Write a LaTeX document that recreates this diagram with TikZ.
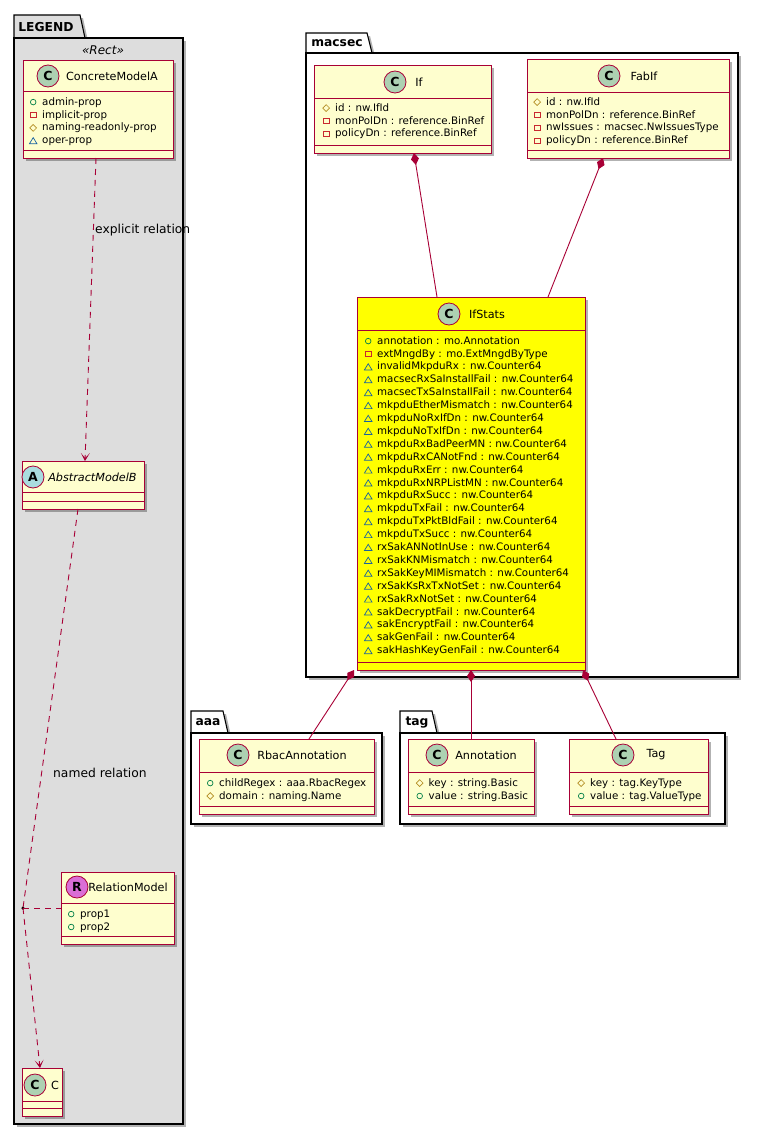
\documentclass[tikz,border=0pt]{standalone}
\usepackage{fontspec}
\setmainfont{DejaVu Sans}
\usetikzlibrary{arrows.meta,shadows}

\definecolor{umlborder}{HTML}{A80036}
\definecolor{umlfill}{HTML}{FEFECE}
\definecolor{legendgray}{HTML}{DDDDDD}
\definecolor{statsyellow}{HTML}{FFFF00}
\definecolor{spotc}{HTML}{ADD1B2}
\definecolor{spota}{HTML}{A9DCDF}
\definecolor{spotr}{HTML}{DA6ED6}
\definecolor{pubgreen}{HTML}{038048}
\definecolor{privred}{HTML}{C82930}
\definecolor{protgold}{HTML}{B38D22}
\definecolor{pkgblue}{HTML}{1963A0}

\newcommand{\vpub}{\tikz[baseline=0pt]{\useasboundingbox (0pt,0pt) rectangle (7pt,8.5pt);\draw[pubgreen,line width=0.7pt] (3.5pt,3pt) circle (2.8pt);}\hspace{5.5pt}}
\newcommand{\vpriv}{\tikz[baseline=0pt]{\useasboundingbox (0pt,0pt) rectangle (7pt,8.5pt);\draw[privred,line width=0.7pt] (0.8pt,0.3pt) rectangle (6.2pt,5.7pt);}\hspace{5.5pt}}
\newcommand{\vprot}{\tikz[baseline=0pt]{\useasboundingbox (0pt,0pt) rectangle (7pt,8.5pt);\draw[protgold,line width=0.7pt] (3.5pt,-0.4pt) -- (6.9pt,3pt) -- (3.5pt,6.4pt) -- (0.1pt,3pt) -- cycle;}\hspace{5.5pt}}
\newcommand{\vpkg}{\tikz[baseline=0pt]{\useasboundingbox (0pt,0pt) rectangle (7pt,8.5pt);\draw[pkgblue,line width=0.7pt] (-0.3pt,0pt) -- (7.3pt,0pt) -- (3.5pt,6.2pt) -- cycle;}\hspace{5.5pt}}

\tikzset{
	classbox/.style={draw=umlborder, fill=umlfill, line width=1pt, anchor=north west, inner sep=0pt, outer sep=0pt,
		drop shadow={shadow xshift=3pt, shadow yshift=-3pt, opacity=0.3, fill=black}},
	classline/.style={draw=umlborder, line width=1pt},
	spot/.style={circle, draw=umlborder, line width=0.8pt, minimum size=22pt, inner sep=0pt, font=\fontsize{12.5}{12.5}\selectfont\bfseries},
	classname/.style={font=\fontsize{11.2}{13}\selectfont, inner sep=0pt},
	attrs/.style={anchor=north west, align=left, inner sep=0pt, font=\fontsize{10.3}{12.9}\selectfont},
	pkgbody/.style={draw=black, line width=1.1pt, fill=white, anchor=north west, inner sep=0pt, outer sep=0pt,
		drop shadow={shadow xshift=3pt, shadow yshift=-3pt, opacity=0.3, fill=black}},
	pkgtab/.style={draw=black, line width=1.1pt, fill=white,
		drop shadow={shadow xshift=3pt, shadow yshift=-3pt, opacity=0.3, fill=black}},
	pkgname/.style={font=\fontsize{12.3}{14}\selectfont\bfseries, inner sep=0pt},
	rellabel/.style={font=\fontsize{12.3}{14}\selectfont, anchor=west, inner sep=0pt},
	dep/.style={draw=umlborder, line width=0.9pt, dash pattern=on 6pt off 5pt},
	deparrow/.style={dep, arrows={-Stealth[length=8pt, width=9pt, inset=5pt]}},
	comp/.style={draw=umlborder, line width=0.9pt, arrows={Diamond[length=12pt, width=8pt]-}},
}

\begin{document}
\begin{tikzpicture}[x=1pt, y=-1pt]
	\fill[white] (0,0) rectangle (759,1135);
	\useasboundingbox (0,0) rectangle (759,1135);

	\draw[pkgtab, fill=legendgray] (14,38) -- (14,15) -- (80,15) -- (85,38) -- cycle;
	\node[pkgbody, fill=legendgray, minimum width=169pt, minimum height=1086pt] (legend) at (14,38) {};
	\node[pkgname] (legend-name) at (46,27) {LEGEND};
	\node[font=\fontsize{12}{14}\selectfont\itshape, inner sep=0pt] (legend-stereo) at (103,50) {«Rect»};

	\draw[pkgtab] (306,53) -- (306,33) -- (367,33) -- (372,53) -- cycle;
	\node[pkgbody, minimum width=432pt, minimum height=624pt] (macsec) at (306,53) {};
	\node[pkgname] (macsec-name) at (337,43) {macsec};

	\draw[pkgtab] (191,733) -- (191,711) -- (223,711) -- (228,733) -- cycle;
	\node[pkgbody, minimum width=191pt, minimum height=91pt] (aaa) at (191,733) {};
	\node[pkgname] (aaa-name) at (208,722) {aaa};

	\draw[pkgtab] (400,733) -- (400,711) -- (432,711) -- (437,733) -- cycle;
	\node[pkgbody, minimum width=325pt, minimum height=91pt] (tag) at (400,733) {};
	\node[pkgname] (tag-name) at (417,722) {tag};

	\node[classbox, minimum width=150pt, minimum height=98pt] (concretea) at (23,60) {};
	\node[spot, fill=spotc] (concretea-spot) at (48,76) {C};
	\node[classname] (concretea-name) at (112,76) {ConcreteModelA};
	\node[attrs] (concretea-attrs) at (29.5,96.4) {\vpub admin-prop\\ \vpriv implicit-prop\\ \vprot naming-readonly-prop\\ \vpkg oper-prop};

	\node[classbox, minimum width=122pt, minimum height=48pt] (abstractb) at (22,461) {};
	\node[spot, fill=spota] (abstractb-spot) at (33,477) {A};
	\node[classname, font=\fontsize{11.2}{13}\selectfont\itshape] (abstractb-name) at (92.5,477) {AbstractModelB};

	\node[classbox, minimum width=113pt, minimum height=72pt] (relmodel) at (61,872) {};
	\node[spot, fill=spotr] (relmodel-spot) at (77,887) {R};
	\node[classname] (relmodel-name) at (128,887) {RelationModel};
	\node[attrs] (relmodel-attrs) at (67.5,908.4) {\vpub prop1\\ \vpub prop2};

	\node[classbox, minimum width=40pt, minimum height=48pt] (cbox) at (22,1068) {};
	\node[spot, fill=spotc] (cbox-spot) at (35,1085) {C};
	\node[classname] (cbox-name) at (55,1085) {C};

	\node[classbox, minimum width=177pt, minimum height=88pt] (ifbox) at (314,65) {};
	\node[spot, fill=spotc] (ifbox-spot) at (395,82) {C};
	\node[classname] (ifbox-name) at (419,82) {If};
	\node[attrs] (ifbox-attrs) at (322.5,102.4) {\vprot id : nw.IfId\\ \vpriv monPolDn : reference.BinRef\\ \vpriv policyDn : reference.BinRef};

	\node[classbox, minimum width=202pt, minimum height=99pt] (fabif) at (527,59) {};
	\node[spot, fill=spotc] (fabif-spot) at (609,76) {C};
	\node[classname] (fabif-name) at (644,76) {FabIf};
	\node[attrs] (fabif-attrs) at (533.5,96.4) {\vprot id : nw.IfId\\ \vpriv monPolDn : reference.BinRef\\ \vpriv nwIssues : macsec.NwIssuesType\\ \vpriv policyDn : reference.BinRef};

	\node[classbox, fill=statsyellow, minimum width=228pt, minimum height=373pt] (ifstats) at (357,297) {};
	\node[spot, fill=spotc] (ifstats-spot) at (449,314) {C};
	\node[classname] (ifstats-name) at (487,314) {IfStats};
	\node[attrs] (ifstats-attrs) at (364.5,335.4) {\vpub annotation : mo.Annotation\\
		\vpriv extMngdBy : mo.ExtMngdByType\\
		\vpkg invalidMkpduRx : nw.Counter64\\
		\vpkg macsecRxSaInstallFail : nw.Counter64\\
		\vpkg macsecTxSaInstallFail : nw.Counter64\\
		\vpkg mkpduEtherMismatch : nw.Counter64\\
		\vpkg mkpduNoRxIfDn : nw.Counter64\\
		\vpkg mkpduNoTxIfDn : nw.Counter64\\
		\vpkg mkpduRxBadPeerMN : nw.Counter64\\
		\vpkg mkpduRxCANotFnd : nw.Counter64\\
		\vpkg mkpduRxErr : nw.Counter64\\
		\vpkg mkpduRxNRPListMN : nw.Counter64\\
		\vpkg mkpduRxSucc : nw.Counter64\\
		\vpkg mkpduTxFail : nw.Counter64\\
		\vpkg mkpduTxPktBldFail : nw.Counter64\\
		\vpkg mkpduTxSucc : nw.Counter64\\
		\vpkg rxSakANNotInUse : nw.Counter64\\
		\vpkg rxSakKNMismatch : nw.Counter64\\
		\vpkg rxSakKeyMIMismatch : nw.Counter64\\
		\vpkg rxSakKsRxTxNotSet : nw.Counter64\\
		\vpkg rxSakRxNotSet : nw.Counter64\\
		\vpkg sakDecryptFail : nw.Counter64\\
		\vpkg sakEncryptFail : nw.Counter64\\
		\vpkg sakGenFail : nw.Counter64\\
		\vpkg sakHashKeyGenFail : nw.Counter64};

	\node[classbox, minimum width=175pt, minimum height=75pt] (rbac) at (199,739) {};
	\node[spot, fill=spotc] (rbac-spot) at (238,755) {C};
	\node[classname] (rbac-name) at (302,755) {RbacAnnotation};
	\node[attrs] (rbac-attrs) at (206.5,777.4) {\vpub childRegex : aaa.RbacRegex\\ \vprot domain : naming.Name};

	\node[classbox, minimum width=126pt, minimum height=75pt] (annot) at (408,739) {};
	\node[spot, fill=spotc] (annot-spot) at (437,755) {C};
	\node[classname] (annot-name) at (486,755) {Annotation};
	\node[attrs] (annot-attrs) at (416,777.4) {\vprot key : string.Basic\\ \vpub value : string.Basic};

	\node[classbox, minimum width=139pt, minimum height=75pt] (tagbox) at (569,739) {};
	\node[spot, fill=spotc] (tagbox-spot) at (623,755) {C};
	\node[classname] (tagbox-name) at (656,755) {Tag};
	\node[attrs] (tagbox-attrs) at (577.5,777.4) {\vprot key : tag.KeyType\\ \vpub value : tag.ValueType};

	\foreach \cls/\hs in {concretea/31pt, abstractb/31pt, relmodel/31pt, cbox/33pt, ifbox/33pt, fabif/33pt, ifstats/33pt, rbac/33pt, annot/33pt, tagbox/33pt}
		\draw[classline] ([yshift=-\hs]\cls.north west) -- ([yshift=-\hs]\cls.north east)
			([yshift=8pt]\cls.south west) -- ([yshift=8pt]\cls.south east);

	\node[circle, fill=black, inner sep=0pt, minimum size=3.5pt] (reldot) at (23,908) {};

	\draw[deparrow] ([xshift=-2pt]concretea.south) -- ([xshift=2pt]abstractb.north);
	\node[rellabel] (explicit-label) at (95,230) {explicit relation};
	\draw[dep] ([xshift=-5pt]abstractb.south) -- (reldot.center);
	\node[rellabel] (named-label) at (53,773) {named relation};
	\draw[dep] (reldot.center) -- (relmodel.west);
	\draw[deparrow] (reldot.center) -- ([xshift=-2pt]cbox.north);

	\draw[comp] ([xshift=11.5pt]ifbox.south) -- ([xshift=-34pt]ifstats.north);
	\draw[comp] ([xshift=-25pt]fabif.south) -- ([xshift=77pt]ifstats.north);
	\draw[comp] ([xshift=-3pt]ifstats.south west) -- ([xshift=22.5pt]rbac.north);
	\draw[comp] (ifstats.south) -- (annot.north);
	\draw[comp] ([xshift=-2pt]ifstats.south east) -- ([xshift=-22.5pt]tagbox.north);
\end{tikzpicture}
\end{document}
